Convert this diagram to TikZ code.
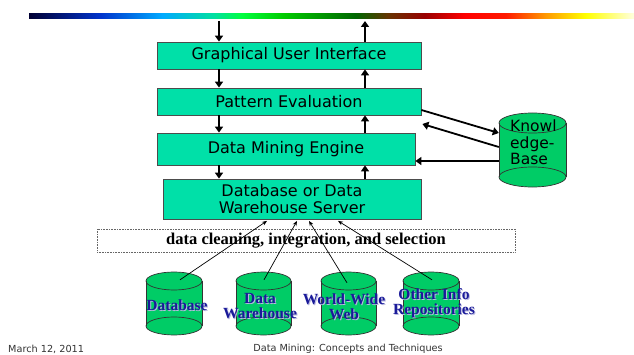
\documentclass[tikz,border=0pt]{standalone}
\usepackage{fontspec}
\setmainfont{Liberation Serif}
\newfontfamily\boxfont{DejaVu Sans}
\usetikzlibrary{arrows.meta,calc}
\definecolor{boxfill}{HTML}{00E0A8}
\definecolor{cylfill}{HTML}{00CC66}
\definecolor{lbl}{HTML}{1A1A99}
\definecolor{lblsh}{HTML}{B8B8E0}
\definecolor{rbA}{HTML}{000033}
\definecolor{rbB}{HTML}{0033CC}
\definecolor{rbC}{HTML}{00AAFF}
\definecolor{rbD}{HTML}{00E0A0}
\definecolor{rbE}{HTML}{00FF40}
\definecolor{rbF}{HTML}{00CC00}
\definecolor{rbG}{HTML}{006600}
\definecolor{rbH}{HTML}{663300}
\definecolor{rbI}{HTML}{990000}
\definecolor{rbJ}{HTML}{FF0000}
\definecolor{rbK}{HTML}{FF1A00}
\definecolor{rbL}{HTML}{FF9900}
\definecolor{rbM}{HTML}{FFFF00}
\definecolor{rbN}{HTML}{FFFFE0}
\pgfdeclarehorizontalshading{rainbowbar}{100bp}{color(0bp)=(rbA); color(25bp)=(rbA); color(30.9bp)=(rbB); color(36bp)=(rbC); color(40.3bp)=(rbD); color(42.6bp)=(rbE); color(46bp)=(rbF); color(52bp)=(rbG); color(54.7bp)=(rbH); color(57.7bp)=(rbI); color(61bp)=(rbJ); color(64.4bp)=(rbK); color(67.7bp)=(rbL); color(71bp)=(rbM); color(75bp)=(rbN); color(100bp)=(rbN)}
\newcommand\cylshape[5]{%
  \pgfmathsetmacro\cylcx{(#1+#2)/2}%
  \pgfmathsetmacro\cylrx{(#2-#1)/2}%
  \fill[cylfill] (#1,#3-#5) -- (#1,#4+#5) arc[start angle=180,end angle=360,x radius=\cylrx,y radius=#5] -- (#2,#3-#5) arc[start angle=0,end angle=180,x radius=\cylrx,y radius=#5] -- cycle;
  \draw[cylline] (\cylcx,#3-#5) ellipse[x radius=\cylrx,y radius=#5];
  \draw[cylline] (#1,#3-#5) -- (#1,#4+#5) (#2,#3-#5) -- (#2,#4+#5);
  \draw[cylline] (\cylcx,#4+#5) ellipse[x radius=\cylrx,y radius=#5];
}
\tikzset{
  layerbox/.style={draw=black!70, line width=0.8pt, fill=boxfill, font=\boxfont\fontsize{16}{18}\selectfont, inner sep=0pt, align=center},
  cylline/.style={draw=black!80, line width=0.7pt},
  bigarrow/.style={line width=2.2pt, -{Triangle[length=6pt,width=8pt]}},
  thinarrow/.style={line width=0.7pt, -{Stealth[length=5pt,width=4pt]}},
  ghost/.style={inner sep=0pt, draw=none},
  cyllabel/.style={font=\bfseries\fontsize{15.5}{15}\selectfont, text=lbl, align=center, inner sep=0pt},
  cylshadow/.style={font=\bfseries\fontsize{15.5}{15}\selectfont, text=lblsh, align=center, inner sep=0pt},
  footer/.style={font=\boxfont\fontsize{9.7}{11}\selectfont, text=black!80, inner sep=0pt}
}
\begin{document}
\begin{tikzpicture}[x=1pt,y=1pt]
\useasboundingbox (0,0) rectangle (634,354);
\fill[white] (0,0) rectangle (634,354);
% rainbow bar
\shade[shading=rainbowbar] (29,335) rectangle (634,340);

% layer boxes
\node[layerbox, minimum width=264, minimum height=27] (gui) at (289,298.5) {Graphical User Interface};
\node[layerbox, minimum width=264, minimum height=27] (pe) at (289,252.5) {Pattern Evaluation};
\node[layerbox, minimum width=258, minimum height=32] (dme) at (286,205) {Data Mining Engine};
\node[layerbox, minimum width=258, minimum height=40, font=\boxfont\fontsize{16}{17.5}\selectfont] (dbs) at (292,155) {Database or Data\\Warehouse Server};

\coordinate (topL) at (219,333);
\coordinate (topR) at (365,333);
% left down arrows
\draw[bigarrow] (topL) -- (topL |- gui.north);
\draw[bigarrow] (topL |- gui.south) -- (topL |- pe.north);
\draw[bigarrow] (topL |- pe.south) -- (topL |- dme.north);
\draw[bigarrow] (topL |- dme.south) -- (topL |- dbs.north);
% right up arrows
\draw[bigarrow] (topR |- dbs.north) -- (topR |- dme.south);
\draw[bigarrow] (topR |- dme.north) -- (topR |- pe.south);
\draw[bigarrow] (topR |- pe.north) -- (topR |- gui.south);
\draw[bigarrow] (topR |- gui.north) -- (topR);

% knowledge base
\cylshape{499}{566}{241}{167}{10}
\node[ghost, minimum width=67, minimum height=74] (kb) at (532.5,204) {};
\node[anchor=north west, inner sep=0pt, align=left, font=\boxfont\fontsize{15.5}{16.5}\selectfont] (kbtext) at (510,234) {Knowl\\edge-\\Base};
\draw[bigarrow, line width=1.8pt] ([yshift=-8.5]pe.east) -- ([yshift=17]kb.west);
\draw[bigarrow, line width=1.8pt] ([yshift=3]kb.west) -- ([xshift=1,yshift=-22.5]pe.east);
\draw[bigarrow, line width=1.8pt] ([yshift=-11]kb.west) -- ([yshift=-12]dme.east);

% data cleaning box
\node[draw=black!60, densely dotted, line width=0.6pt, minimum width=418, minimum height=23, inner sep=0pt, font=\bfseries\fontsize{16.5}{18}\selectfont] (clean) at (306,113.5) {data cleaning, integration, and selection};

% bottom cylinders
\cylshape{146}{202}{82}{19}{9}
\cylshape{236}{291}{82}{19}{9}
\cylshape{321}{376}{82}{19}{9}
\cylshape{403}{459}{82}{19}{9}
\node[ghost, minimum width=56, minimum height=63] (c1) at (174,50.5) {};
\node[ghost, minimum width=55, minimum height=63] (c2) at (263.5,50.5) {};
\node[ghost, minimum width=55, minimum height=63] (c3) at (348.5,50.5) {};
\node[ghost, minimum width=56, minimum height=63] (c4) at (431,50.5) {};

\node[cylshadow] at (178,48) {Database};
\node[cyllabel] (l1) at (177,49) {Database};
\node[cylshadow] at (261,47) {Data\\Warehouse};
\node[cyllabel] (l2) at (260,48) {Data\\Warehouse};
\node[cylshadow] at (345,46) {World-Wide\\Web};
\node[cyllabel] (l3) at (344,47) {World-Wide\\Web};
\node[cylshadow] at (435,50) {Other Info\\Repositories};
\node[cyllabel] (l4) at (434,51) {Other Info\\Repositories};

\draw[thinarrow] ([xshift=6,yshift=-8]c1.north) -- ([xshift=-25,yshift=-1.5]dbs.south);
\draw[thinarrow] ([xshift=0.5,yshift=-8]c2.north) -- ([xshift=5,yshift=-1.5]dbs.south);
\draw[thinarrow] ([xshift=-1.5,yshift=-11]c3.north) -- ([xshift=17,yshift=-1.5]dbs.south);
\draw[thinarrow] ([xshift=1,yshift=-8]c4.north) -- ([xshift=46,yshift=-1.5]dbs.south);

% footer
\node[footer, anchor=west] (date) at (8,5) {March 12, 2011};
\node[footer] (title) at (348,5) {Data Mining: Concepts and Techniques};
\end{tikzpicture}
\end{document}
